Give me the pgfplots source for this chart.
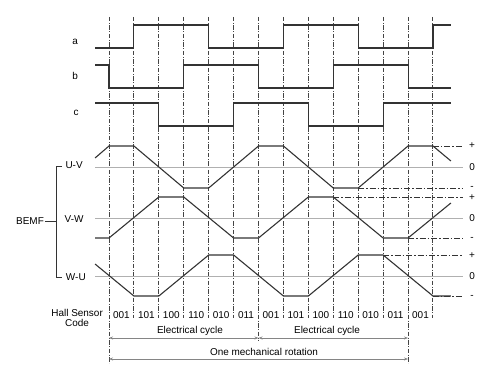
\documentclass[border=0pt]{standalone}
\usepackage{pgfplots}
\pgfplotsset{compat=1.18}
\usepackage{fontspec}
\setmainfont{Liberation Sans}
\usetikzlibrary{arrows.meta}
\definecolor{sig}{HTML}{333333}
\definecolor{vdash}{HTML}{444444}
\definecolor{zline}{HTML}{B0B0B0}
\definecolor{arr}{HTML}{858585}
\begin{document}
\begin{tikzpicture}
\begin{axis}[width=500bp, height=372bp, scale only axis,
  xmin=-4.374, xmax=15.690, ymin=0, ymax=372, y dir=reverse,
  axis lines=none, clip=false,
  every node/.append style={font=\fontsize{12}{13.5}\selectfont, text=black!90}]
\addplot[draw=none, forget plot] coordinates {(-4.374,0) (15.690,372)};
% vertical dash-dot lines
\pgfplotsset{vd/.style={vdash, line width=1pt, dash pattern=on 4.5bp off 1.5bp on 1bp off 1.5bp}}
\addplot[vd] coordinates {(0,17) (0,363)};
\addplot[vd] coordinates {(1,17) (1,318)};
\addplot[vd] coordinates {(2,17) (2,318)};
\addplot[vd] coordinates {(3,17) (3,318)};
\addplot[vd] coordinates {(4,17) (4,318)};
\addplot[vd] coordinates {(5,17) (5,318)};
\addplot[vd] coordinates {(6,17) (6,341)};
\addplot[vd] coordinates {(7,17) (7,318)};
\addplot[vd] coordinates {(8,17) (8,318)};
\addplot[vd] coordinates {(9,17) (9,318)};
\addplot[vd] coordinates {(10,17) (10,318)};
\addplot[vd] coordinates {(11,17) (11,318)};
\addplot[vd] coordinates {(12,17) (12,363)};
\addplot[vd] coordinates {(13,17) (13,318)};
% zero lines
\addplot[zline, line width=0.8pt] coordinates {(-0.56,167) (14.2,167)};
\addplot[zline, line width=0.8pt] coordinates {(-0.56,218) (14.2,218)};
\addplot[zline, line width=0.8pt] coordinates {(-0.56,276) (14.2,276)};
% dash-dot level lines
\pgfplotsset{hd/.style={sig, line width=0.9pt, dash pattern=on 6bp off 2bp on 1.5bp off 2bp}}
\addplot[hd] coordinates {(13,146) (14.2,146)};
\addplot[hd] coordinates {(10,188) (14.2,188)};
\addplot[hd] coordinates {(9,197) (14.2,197)};
\addplot[hd] coordinates {(12,238) (14.2,238)};
\addplot[hd] coordinates {(11,255) (14.2,255)};
\addplot[hd] coordinates {(13,296) (14.2,296)};
% hall signals
\pgfplotsset{sg/.style={sig, line width=1.1pt}}
\addplot[sg] coordinates {(-0.56,48)(1,48)(1,25)(4,25)(4,48)(7,48)(7,25)(10,25)(10,48)(13,48)(13,25)(13.72,25)};
\addplot[sg] coordinates {(-0.56,65)(0,65)(0,88)(3,88)(3,65)(6,65)(6,88)(9,88)(9,65)(12,65)(12,88)(13.72,88)};
\addplot[sg] coordinates {(-0.56,103)(2,103)(2,126)(5,126)(5,103)(8,103)(8,126)(11,126)(11,103)(13.72,103)};
% BEMF
\addplot[sg] coordinates {(-0.56,158)(0,146)(1,146)(3,188)(4,188)(6,146)(7,146)(9,188)(10,188)(12,146)(13,146)(13.72,161)};
\addplot[sg] coordinates {(-0.56,238)(0,238)(2,197)(3,197)(5,238)(6,238)(8,197)(9,197)(11,238)(12,238)(13.72,203)};
\addplot[sg] coordinates {(-0.56,264)(1,296)(2,296)(4,255)(5,255)(7,296)(8,296)(10,255)(11,255)(13,296)(13.72,296)};
% bracket
\addplot[sig, line width=0.9pt] coordinates {(-1.88,166)(-2.1,166)(-2.1,277)(-1.88,277)};
\addplot[sig, line width=0.9pt] coordinates {(-2.57,221)(-2.1,221)};
% arrows
\pgfplotsset{ar/.style={arr, line width=0.9pt, {Stealth[length=4pt,width=3pt]}-{Stealth[length=4pt,width=3pt]}}}
\addplot[ar] coordinates {(0,338) (6,338)};
\addplot[ar] coordinates {(6,338) (12,338)};
\addplot[ar] coordinates {(0,359) (12,359)};
% labels
\node at (axis cs:-1.36,42) {a};
\node at (axis cs:-1.36,76) {b};
\node at (axis cs:-1.32,113) {c};
\node at (axis cs:-1.40,165) {U-V};
\node at (axis cs:-1.40,219) {V-W};
\node at (axis cs:-1.33,277) {W-U};
\node at (axis cs:-3.17,221) {BEMF};
\node[align=center, inner sep=0pt] at (axis cs:-1.28,318) {Hall Sensor\\[-1.5pt]Code};
\node at (axis cs:14.57,146) {+};
\node at (axis cs:14.57,167) {0};
\node at (axis cs:14.57,188) {-};
\node at (axis cs:14.57,198) {+};
\node at (axis cs:14.57,218) {0};
\node at (axis cs:14.57,239) {-};
\node at (axis cs:14.57,256) {+};
\node at (axis cs:14.57,276) {0};
\node at (axis cs:14.57,297) {-};
\node at (axis cs:0.5,315) {001};
\node at (axis cs:1.5,315) {101};
\node at (axis cs:2.5,315) {100};
\node at (axis cs:3.5,315) {110};
\node at (axis cs:4.5,315) {010};
\node at (axis cs:5.5,315) {011};
\node at (axis cs:6.5,315) {001};
\node at (axis cs:7.5,315) {101};
\node at (axis cs:8.5,315) {100};
\node at (axis cs:9.5,315) {110};
\node at (axis cs:10.5,315) {010};
\node at (axis cs:11.5,315) {011};
\node at (axis cs:12.5,315) {001};
\node at (axis cs:3.25,331) {Electrical cycle};
\node at (axis cs:8.75,331) {Electrical cycle};
\node at (axis cs:6.22,352) {One mechanical rotation};
\end{axis}
\end{tikzpicture}
\end{document}
